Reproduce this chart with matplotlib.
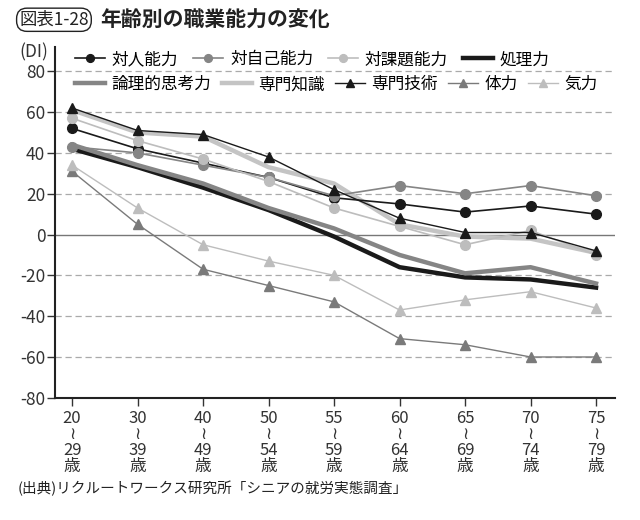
import matplotlib.pyplot as plt

plt.rcParams['font.family'] = ['Noto Sans CJK JP', 'DejaVu Sans']

ages = ["20\n≀\n29\n歳", "30\n≀\n39\n歳", "40\n≀\n49\n歳", "50\n≀\n54\n歳", "55\n≀\n59\n歳",
        "60\n≀\n64\n歳", "65\n≀\n69\n歳", "70\n≀\n74\n歳", "75\n≀\n79\n歳"]

taijin = [52, 42, 35, 28, 18, 15, 11, 14, 10]          # 対人能力
taijiko = [43, 40, 34, 28, 19, 24, 20, 24, 19]         # 対自己能力
takadai = [57, 46, 37, 26, 13, 4, -5, 2, -10]          # 対課題能力
shori = [42, 33, 23, 12, -1, -16, -21, -22, -26]       # 処理力
ronri = [44, 34, 25, 13, 3, -10, -19, -16, -24]        # 論理的思考力
chishiki = [61, 50, 48, 33, 25, 5, -1, -2, -9]         # 専門知識
gijutsu = [62, 51, 49, 38, 22, 8, 1, 1, -8]            # 専門技術
tairyoku = [31, 5, -17, -25, -33, -51, -54, -60, -60]  # 体力
kiryoku = [34, 13, -5, -13, -20, -37, -32, -28, -36]   # 気力

yticks = [-80, -60, -40, -20, 0, 20, 40, 60, 80]

fig = plt.figure(figsize=(6.4, 5.2), dpi=100)
ax = fig.add_axes([0.086, 0.235, 0.875, 0.675])

x = list(range(len(ages)))

# grid
for v in yticks[1:]:
    if v == 0:
        ax.axhline(0, color='#777777', lw=1.0, zorder=1)
    else:
        ax.axhline(v, color='#aaaaaa', lw=0.9, ls=(0, (5, 3)), zorder=1)

# thick lines
l_shori, = ax.plot(x, shori, color='#1a1a1a', lw=3.2, zorder=2, solid_joinstyle='round')
l_ronri, = ax.plot(x, ronri, color='#858585', lw=3.2, zorder=2, solid_joinstyle='round')
l_chishiki, = ax.plot(x, chishiki, color='#c4c4c4', lw=3.2, zorder=2, solid_joinstyle='round')

# thin lines with markers
l_taijin, = ax.plot(x, taijin, color='#1a1a1a', lw=1.2, marker='o', ms=7, zorder=3)
l_taijiko, = ax.plot(x, taijiko, color='#858585', lw=1.2, marker='o', ms=7, zorder=3)
l_takadai, = ax.plot(x, takadai, color='#bdbdbd', lw=1.2, marker='o', ms=7, zorder=3)
l_gijutsu, = ax.plot(x, gijutsu, color='#1a1a1a', lw=1.0, marker='^', ms=7, zorder=4)
l_tairyoku, = ax.plot(x, tairyoku, color='#7a7a7a', lw=1.0, marker='^', ms=7, zorder=4)
l_kiryoku, = ax.plot(x, kiryoku, color='#bdbdbd', lw=1.0, marker='^', ms=7, zorder=4)

ax.set_xlim(-0.26, 8.29)
ax.set_ylim(-80, 92)
ax.set_yticks(yticks)
ax.set_yticklabels([str(v) for v in yticks], fontsize=12.5, color='#333333')
ax.set_xticks(x)
ax.set_xticklabels(ages, fontsize=12, color='#333333', linespacing=0.92)
ax.tick_params(axis='y', length=6, width=1, color='#333333', pad=1)
ax.tick_params(axis='x', length=6, width=1, color='#333333', pad=3)
for s in ['top', 'right']:
    ax.spines[s].set_visible(False)
for s in ['left', 'bottom']:
    ax.spines[s].set_color('#222222')
    ax.spines[s].set_linewidth(1.5)

# legends
leg1 = ax.legend([l_taijin, l_taijiko, l_takadai, l_shori],
                 ['対人能力', '対自己能力', '対課題能力', '処理力'],
                 ncol=4, loc='center left', bbox_to_anchor=(0.036, 0.963), frameon=False,
                 fontsize=12, handlelength=1.8, columnspacing=0.9, handletextpad=0.4,
                 borderpad=0, borderaxespad=0, markerscale=0.8)
ax.add_artist(leg1)
ax.legend([l_ronri, l_chishiki, l_gijutsu, l_tairyoku, l_kiryoku],
          ['論理的思考力', '専門知識', '専門技術', '体力', '気力'],
          ncol=5, loc='center left', bbox_to_anchor=(0.036, 0.892), frameon=False,
          fontsize=12, handlelength=1.8, columnspacing=0.6, handletextpad=0.4,
          borderpad=0, borderaxespad=0, markerscale=0.8)

fig.text(0.03, 0.9, '(DI)', fontsize=12.5, color='#333333', va='center')

# title
fig.text(0.03, 0.962, '図表1-28', fontsize=12.5, va='center', color='#222222',
         bbox=dict(boxstyle='round,pad=0.15,rounding_size=0.6', fc='white', ec='#222222', lw=1))
fig.text(0.156, 0.962, '年齢別の職業能力の変化', fontsize=15, fontweight='bold', va='center', color='#222222')

fig.text(0.028, 0.061, '(出典)リクルートワークス研究所「シニアの就労実態調査」', fontsize=10.5,
         va='center', color='#222222')

fig.savefig('out.png', dpi=100)
